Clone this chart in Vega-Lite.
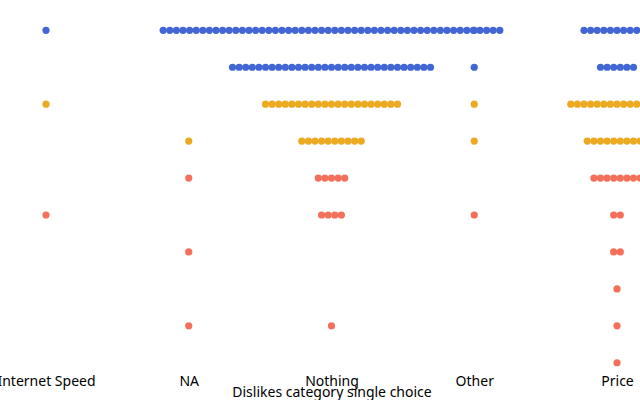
{
  "$schema": "https://vega.github.io/schema/vega-lite/v6.json",
  "width": 640,
  "height": 372,
  "padding": {"left": 0, "top": 0, "right": 0, "bottom": 28},
  "autosize": "none",
  "background": "white",
  "view": {"stroke": null},
  "data": {
    "values": [
      {"c": "Internet Speed", "s": 10}, {"c": "Internet Speed", "s": 8}, {"c": "Internet Speed", "s": 5},
      {"c": "NA", "s": 7}, {"c": "NA", "s": 6}, {"c": "NA", "s": 4}, {"c": "NA", "s": 2},
      {"c": "Nothing", "s": 10}, {"c": "Nothing", "s": 10}, {"c": "Nothing", "s": 10}, {"c": "Nothing", "s": 10}, {"c": "Nothing", "s": 10}, {"c": "Nothing", "s": 10}, {"c": "Nothing", "s": 10}, {"c": "Nothing", "s": 10}, {"c": "Nothing", "s": 10}, {"c": "Nothing", "s": 10}, {"c": "Nothing", "s": 10}, {"c": "Nothing", "s": 10}, {"c": "Nothing", "s": 10},
      {"c": "Nothing", "s": 10}, {"c": "Nothing", "s": 10}, {"c": "Nothing", "s": 10}, {"c": "Nothing", "s": 10}, {"c": "Nothing", "s": 10}, {"c": "Nothing", "s": 10}, {"c": "Nothing", "s": 10}, {"c": "Nothing", "s": 10}, {"c": "Nothing", "s": 10}, {"c": "Nothing", "s": 10}, {"c": "Nothing", "s": 10}, {"c": "Nothing", "s": 10}, {"c": "Nothing", "s": 10},
      {"c": "Nothing", "s": 10}, {"c": "Nothing", "s": 10}, {"c": "Nothing", "s": 10}, {"c": "Nothing", "s": 10}, {"c": "Nothing", "s": 10}, {"c": "Nothing", "s": 10}, {"c": "Nothing", "s": 10}, {"c": "Nothing", "s": 10}, {"c": "Nothing", "s": 10}, {"c": "Nothing", "s": 10}, {"c": "Nothing", "s": 10}, {"c": "Nothing", "s": 10}, {"c": "Nothing", "s": 10},
      {"c": "Nothing", "s": 10}, {"c": "Nothing", "s": 10}, {"c": "Nothing", "s": 10}, {"c": "Nothing", "s": 10}, {"c": "Nothing", "s": 10}, {"c": "Nothing", "s": 10}, {"c": "Nothing", "s": 10}, {"c": "Nothing", "s": 10}, {"c": "Nothing", "s": 10}, {"c": "Nothing", "s": 10}, {"c": "Nothing", "s": 10}, {"c": "Nothing", "s": 10}, {"c": "Nothing", "s": 10},
      {"c": "Nothing", "s": 9}, {"c": "Nothing", "s": 9}, {"c": "Nothing", "s": 9}, {"c": "Nothing", "s": 9}, {"c": "Nothing", "s": 9}, {"c": "Nothing", "s": 9}, {"c": "Nothing", "s": 9}, {"c": "Nothing", "s": 9}, {"c": "Nothing", "s": 9}, {"c": "Nothing", "s": 9},
      {"c": "Nothing", "s": 9}, {"c": "Nothing", "s": 9}, {"c": "Nothing", "s": 9}, {"c": "Nothing", "s": 9}, {"c": "Nothing", "s": 9}, {"c": "Nothing", "s": 9}, {"c": "Nothing", "s": 9}, {"c": "Nothing", "s": 9}, {"c": "Nothing", "s": 9}, {"c": "Nothing", "s": 9},
      {"c": "Nothing", "s": 9}, {"c": "Nothing", "s": 9}, {"c": "Nothing", "s": 9}, {"c": "Nothing", "s": 9}, {"c": "Nothing", "s": 9}, {"c": "Nothing", "s": 9}, {"c": "Nothing", "s": 9}, {"c": "Nothing", "s": 9}, {"c": "Nothing", "s": 9}, {"c": "Nothing", "s": 9},
      {"c": "Nothing", "s": 9},
      {"c": "Nothing", "s": 8}, {"c": "Nothing", "s": 8}, {"c": "Nothing", "s": 8}, {"c": "Nothing", "s": 8}, {"c": "Nothing", "s": 8}, {"c": "Nothing", "s": 8}, {"c": "Nothing", "s": 8}, {"c": "Nothing", "s": 8}, {"c": "Nothing", "s": 8}, {"c": "Nothing", "s": 8},
      {"c": "Nothing", "s": 8}, {"c": "Nothing", "s": 8}, {"c": "Nothing", "s": 8}, {"c": "Nothing", "s": 8}, {"c": "Nothing", "s": 8}, {"c": "Nothing", "s": 8}, {"c": "Nothing", "s": 8}, {"c": "Nothing", "s": 8}, {"c": "Nothing", "s": 8}, {"c": "Nothing", "s": 8},
      {"c": "Nothing", "s": 8},
      {"c": "Nothing", "s": 7}, {"c": "Nothing", "s": 7}, {"c": "Nothing", "s": 7}, {"c": "Nothing", "s": 7}, {"c": "Nothing", "s": 7}, {"c": "Nothing", "s": 7}, {"c": "Nothing", "s": 7}, {"c": "Nothing", "s": 7}, {"c": "Nothing", "s": 7}, {"c": "Nothing", "s": 7},
      {"c": "Nothing", "s": 6}, {"c": "Nothing", "s": 6}, {"c": "Nothing", "s": 6}, {"c": "Nothing", "s": 6}, {"c": "Nothing", "s": 6},
      {"c": "Nothing", "s": 5}, {"c": "Nothing", "s": 5}, {"c": "Nothing", "s": 5}, {"c": "Nothing", "s": 5},
      {"c": "Nothing", "s": 2},
      {"c": "Other", "s": 10}, {"c": "Other", "s": 9}, {"c": "Other", "s": 8}, {"c": "Other", "s": 7}, {"c": "Other", "s": 5},
      {"c": "Price", "s": 10}, {"c": "Price", "s": 10}, {"c": "Price", "s": 10}, {"c": "Price", "s": 10}, {"c": "Price", "s": 10}, {"c": "Price", "s": 10}, {"c": "Price", "s": 10}, {"c": "Price", "s": 10}, {"c": "Price", "s": 10}, {"c": "Price", "s": 10},
      {"c": "Price", "s": 10},
      {"c": "Price", "s": 9}, {"c": "Price", "s": 9}, {"c": "Price", "s": 9}, {"c": "Price", "s": 9}, {"c": "Price", "s": 9}, {"c": "Price", "s": 9},
      {"c": "Price", "s": 8}, {"c": "Price", "s": 8}, {"c": "Price", "s": 8}, {"c": "Price", "s": 8}, {"c": "Price", "s": 8}, {"c": "Price", "s": 8}, {"c": "Price", "s": 8}, {"c": "Price", "s": 8}, {"c": "Price", "s": 8}, {"c": "Price", "s": 8},
      {"c": "Price", "s": 8}, {"c": "Price", "s": 8}, {"c": "Price", "s": 8}, {"c": "Price", "s": 8}, {"c": "Price", "s": 8},
      {"c": "Price", "s": 7}, {"c": "Price", "s": 7}, {"c": "Price", "s": 7}, {"c": "Price", "s": 7}, {"c": "Price", "s": 7}, {"c": "Price", "s": 7}, {"c": "Price", "s": 7}, {"c": "Price", "s": 7}, {"c": "Price", "s": 7}, {"c": "Price", "s": 7},
      {"c": "Price", "s": 6}, {"c": "Price", "s": 6}, {"c": "Price", "s": 6}, {"c": "Price", "s": 6}, {"c": "Price", "s": 6}, {"c": "Price", "s": 6}, {"c": "Price", "s": 6}, {"c": "Price", "s": 6},
      {"c": "Price", "s": 5}, {"c": "Price", "s": 5},
      {"c": "Price", "s": 4}, {"c": "Price", "s": 4},
      {"c": "Price", "s": 3}, {"c": "Price", "s": 2}, {"c": "Price", "s": 1}
    ]
  },
  "transform": [
    {"window": [{"op": "count", "as": "one"}], "frame": [0, 0], "groupby": ["c", "s"]},
    {"stack": "one", "groupby": ["c", "s"], "offset": "center", "as": ["o0", "o1"]}
  ],
  "mark": {"type": "circle", "size": 52, "opacity": 1},
  "encoding": {
    "x": {
      "field": "c",
      "type": "nominal",
      "scale": {"type": "point", "range": [46, 617], "padding": 0},
      "axis": {
        "title": "Dislikes category single choice",
        "domain": false,
        "ticks": false,
        "tickSize": 0,
        "grid": false,
        "labelAngle": 0,
        "labelFont": "Noto Sans",
        "labelFontSize": 14,
        "labelColor": "#000",
        "labelPadding": 2,
        "titleFont": "Noto Sans",
        "titleFontSize": 14,
        "titleFontWeight": "normal",
        "titleColor": "#000",
        "titleBaseline": "alphabetic",
        "titleY": 24
      }
    },
    "xOffset": {
      "field": "o0",
      "type": "quantitative",
      "scale": {"domain": [-24.5, 75.5], "range": [-330, 330], "nice": false, "zero": false}
    },
    "y": {
      "field": "s",
      "type": "quantitative",
      "scale": {"domain": [0.75, 10.82], "nice": false, "zero": false},
      "axis": null
    },
    "color": {
      "field": "s",
      "type": "quantitative",
      "scale": {"type": "threshold", "domain": [6.5, 8.5], "range": ["#F4705B", "#EBAA20", "#4267D4"]},
      "legend": null
    }
  }
}
